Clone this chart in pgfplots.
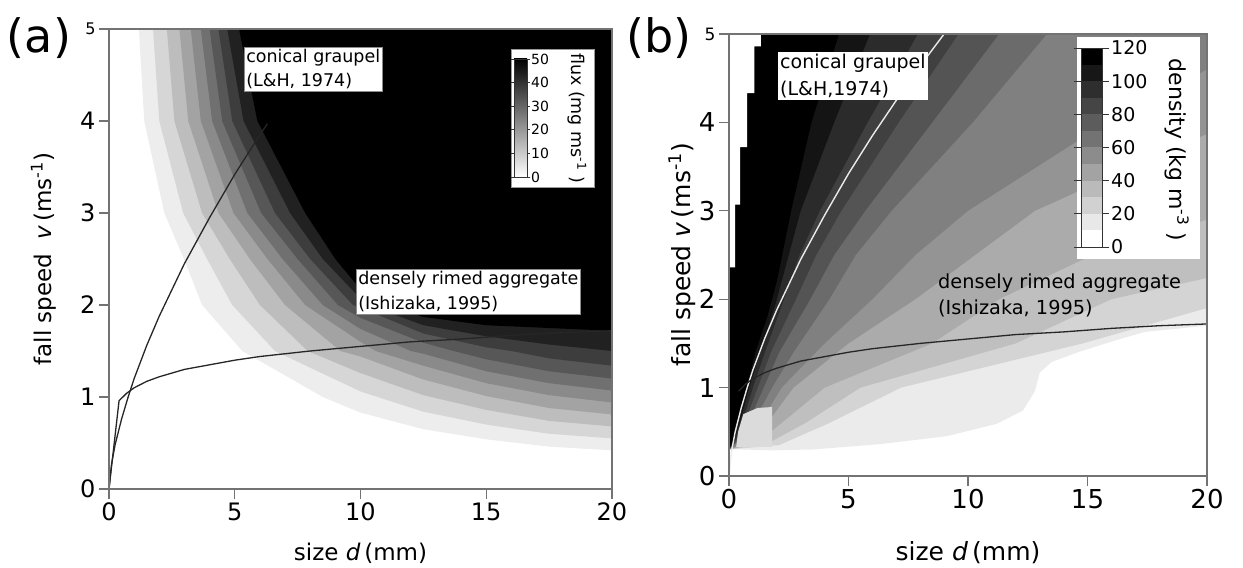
\documentclass[border=0pt]{standalone}
\usepackage{fontspec}
\setmainfont{DejaVu Sans}
\usepackage{pgfplots}
\pgfplotsset{compat=1.18}
\newcommand{\fs}[2]{\fontsize{#1bp}{#2bp}\selectfont}
\pgfplotsset{
  panel/.style={
    scale only axis, anchor=south west,
    xmin=0, xmax=20, ymin=0, ymax=5,
    xtick={0,5,10,15,20}, ytick={0,1,2,3,4,5},
    tick align=outside, tick pos=left, major tick length=10bp,
    axis line style={draw=black!55, line width=1.2bp},
    tick style={draw=black!55, line width=1.2bp},
    axis on top,
    /pgf/number format/assume math mode=true,
  },
  cbar/.style={
    scale only axis, anchor=south west,
    xmin=0, xmax=1, xtick=\empty,
    yticklabel pos=right, tick align=outside, major tick length=5bp,
    axis line style={draw=black!80, line width=0.8bp},
    tick style={draw=black!80, line width=0.8bp},
    axis on top,
    /pgf/number format/assume math mode=true,
  }
}
\begin{document}
\begin{tikzpicture}
\path[use as bounding box] (0,0) rectangle (1243bp,568bp);
% ---------------- panel (a)
\begin{axis}[panel, at={(109bp,79bp)}, width=503bp, height=460bp,
  tick label style={font=\fs{24}{24}},
  yticklabels={0,1,2,3,4,{\fs{16}{16}5}},
  xlabel={size \textit{d}\,(mm)},
  xlabel style={font=\fs{23}{23}, at={(axis description cs:0.5,-0.139)}, anchor=center},
  ylabel={fall speed\ \ \textit{v}\,(ms\textsuperscript{-1})},
  ylabel style={font=\fs{23}{23}, at={(axis description cs:-0.13,0.5)}, anchor=center},
]
\addplot[draw=none, fill=black!7] coordinates {(1.19,5) (1.4,4) (2.2,3) (2.98,2.5) (3.7,2) (5.3,1.5) (8.5,1.0) (10,0.83) (12.5,0.65) (15,0.54) (17.5,0.46) (20,0.42) (20,5)};
\addplot[draw=none, fill=black!16] coordinates {(1.75,5) (2.0,4) (2.95,3) (3.9,2.5) (4.9,2) (6.6,1.5) (10,1.06) (12.5,0.84) (15,0.7) (17.5,0.6) (20,0.55) (20,5)};
\addplot[draw=none, fill=black!26] coordinates {(2.3,5) (2.6,4) (3.7,3) (4.8,2.5) (6.0,2) (7.9,1.5) (10,1.26) (12.5,1.02) (15,0.86) (17.5,0.74) (20,0.68) (20,5)};
\addplot[draw=none, fill=black!36] coordinates {(2.8,5) (3.15,4) (4.35,3) (5.6,2.5) (7.0,2) (9.2,1.5) (10,1.44) (12.5,1.19) (15,1.01) (17.5,0.88) (20,0.81) (20,5)};
\addplot[draw=none, fill=black!46] coordinates {(3.25,5) (3.65,4) (4.95,3) (6.3,2.5) (7.8,2) (10,1.6) (10.6,1.5) (12.5,1.34) (15,1.15) (17.5,1.02) (20,0.94) (20,5)};
\addplot[draw=none, fill=black!56] coordinates {(3.65,5) (4.1,4) (5.5,3) (6.9,2.5) (8.5,2) (10,1.74) (12,1.5) (12.5,1.47) (15,1.28) (17.5,1.15) (20,1.07) (20,5)};
\addplot[draw=none, fill=black!66] coordinates {(4.0,5) (4.5,4) (6.05,3) (7.5,2.5) (9.1,2) (10,1.86) (12.5,1.59) (13.7,1.5) (15,1.41) (17.5,1.28) (20,1.2) (20,5)};
\addplot[draw=none, fill=black!76] coordinates {(4.35,5) (4.9,4) (6.6,3) (8.0,2.5) (9.7,2) (10,1.97) (12.5,1.69) (15,1.54) (16,1.5) (17.5,1.42) (20,1.34) (20,5)};
\addplot[draw=none, fill=black!87] coordinates {(4.7,5) (5.35,4) (7.2,3) (8.5,2.5) (10,2.07) (10.3,2) (12.5,1.78) (15,1.66) (17.5,1.57) (20,1.5) (20,5)};
\addplot[draw=none, fill=black] coordinates {(5.17,5) (5.9,4) (7.8,3) (9.0,2.5) (10,2.17) (11,2) (12.5,1.87) (15,1.78) (17.5,1.75) (20,1.72) (20,5)};
% curves
\addplot[black!85, line width=1.3bp] coordinates {(0,0) (0.1,0.27) (0.25,0.49) (0.5,0.76) (0.75,0.99) (1,1.2) (1.5,1.56) (2,1.88) (3,2.45) (4,2.95) (5,3.42) (6,3.85) (6.3,3.97)};
\addplot[black!85, line width=1.3bp] coordinates {(0,0) (0.4,0.96) (0.7,1.04) (1,1.10) (1.5,1.17) (2,1.22) (3,1.30) (4,1.35) (5,1.40) (6,1.44) (8,1.50) (10,1.55) (12,1.60) (14,1.63) (16,1.67) (18,1.70) (20,1.72)};
\end{axis}
% colorbar (a)
\filldraw[fill=white, draw=black!40, line width=0.6bp] (511bp,381bp) rectangle (594bp,519bp);
\begin{axis}[cbar, at={(514bp,391bp)}, width=13bp, height=118bp,
  ymin=0, ymax=50, ytick={0,10,20,30,40,50}, major tick length=3bp,
  yticklabel style={font=\fs{14}{14}, inner sep=1bp}]
\addplot[draw=none, top color=black, bottom color=white] coordinates {(0,0) (1,0) (1,50) (0,50)};
\end{axis}
\node[rotate=-90, font=\fs{17.5}{17.5}] at (577bp,450bp) {flux (mg ms\textsuperscript{-1} )};
% annotations (a)
\node[draw=black!45, fill=white, line width=0.6bp, inner sep=2bp, anchor=north west, align=left, font=\fs{17.5}{24}] at (244bp,521bp) {conical graupel\\(L\&H, 1974)};
\node[draw=black!45, fill=white, line width=0.6bp, inner sep=2bp, anchor=north west, align=left, font=\fs{17.5}{25}] at (356bp,299bp) {densely rimed aggregate\\(Ishizaka, 1995)};
\node[font=\fs{46}{46}] at (39bp,530bp) {(a)};
% ---------------- panel (b)
\begin{axis}[panel, at={(729bp,92bp)}, width=478bp, height=442bp,
  tick label style={font=\fs{26}{26}},
  yticklabels={0,1,2,3,4,{\fs{17}{17}5}},
  xlabel={size \textit{d}\,(mm)},
  xlabel style={font=\fs{25}{25}, at={(axis description cs:0.5,-0.174)}, anchor=center},
  ylabel={fall speed \textit{v}\,(ms\textsuperscript{-1})},
  ylabel style={font=\fs{25}{25}, at={(axis description cs:-0.097,0.5)}, anchor=center},
]
\addplot[draw=none, fill=black!8] coordinates {(0,0.3) (0.5,0.3) (1.8,0.29) (3.5,0.30) (6.3,0.36) (9.1,0.45) (11.2,0.59) (12.3,0.74) (12.8,0.96) (13,1.17) (13.5,1.29) (14.6,1.40) (16,1.52) (17.4,1.63) (20,1.70) (20,5) (0,5)};
\addplot[draw=none, fill=black!17] coordinates {(0,0.3) (2.1,0.35) (4.2,0.6) (7.2,1.0) (14.8,1.5) (20,1.9) (20,5) (0,5)};
\addplot[draw=none, fill=black!25] coordinates {(0,0.3) (1.7,0.38) (3.2,0.6) (5.5,1.0) (12.0,1.5) (16.0,2.0) (20,2.24) (20,5) (0,5)};
\addplot[draw=none, fill=black!33] coordinates {(0,0.3) (1.2,0.38) (2.2,0.6) (4.0,1.0) (8.5,1.5) (11.3,2.0) (15.2,2.5) (20,2.9) (20,5) (0,5)};
\addplot[draw=none, fill=black!42] coordinates {(0,0.3) (0.8,0.38) (1.6,0.6) (2.7,1.0) (5.0,1.5) (7.8,2.0) (10.3,2.5) (12.8,3.0) (16.5,3.45) (20,3.87) (20,5) (0,5)};
\addplot[draw=none, fill=black!50] coordinates {(0,0.3) (0.6,0.38) (1.3,0.6) (2.2,1.0) (4.0,1.5) (6.0,2.0) (7.8,2.5) (10.0,3.0) (15.8,4.0) (20,4.6) (20,5) (0,5)};
\addplot[draw=none, fill=black!58] coordinates {(0,0.3) (0.45,0.4) (1.0,0.6) (1.8,1.0) (2.7,1.4) (4.2,2.0) (5.3,2.5) (6.8,3.0) (10.2,4.0) (13.3,5) (0,5)};
\addplot[draw=none, fill=black!67] coordinates {(0,0.3) (0.35,0.4) (0.8,0.6) (1.45,1.0) (2.1,1.4) (3.4,2.0) (4.4,2.5) (5.7,3.0) (8.5,4.0) (11.3,5) (0,5)};
\addplot[draw=none, fill=black!75] coordinates {(0,0.3) (0.3,0.4) (0.65,0.6) (1.2,1.0) (1.75,1.4) (2.8,2.0) (3.65,2.5) (4.7,3.0) (7.1,4.0) (9.6,5) (0,5)};
\addplot[draw=none, fill=black!83] coordinates {(0,0.3) (0.25,0.4) (0.55,0.6) (1.0,1.0) (1.5,1.4) (2.3,2.0) (2.95,2.5) (3.8,3.0) (5.8,4.0) (7.9,5) (0,5)};
\addplot[draw=none, fill=black!92] coordinates {(0,0.3) (0.2,0.4) (0.45,0.6) (0.85,1.0) (1.3,1.4) (1.9,1.9) (2.4,2.4) (3.0,3.0) (4.4,4.0) (5.9,5) (0,5)};
\addplot[draw=none, fill=black] coordinates {(0,0.3) (0.15,0.4) (0.35,0.6) (0.7,0.95) (1.1,1.4) (1.6,1.8) (2.0,2.2) (2.3,2.6) (2.6,3.0) (3.45,4.0) (4.6,5) (0,5)};
% lighter strip left of d=1.8
\addplot[draw=none, fill=black!14] coordinates {(0.3,0.33) (1.8,0.33) (1.8,0.78) (1.2,0.77) (0.6,0.7) (0.38,0.5)};
% white notch
\addplot[draw=none, fill=white] coordinates {(0,2.36) (0.26,2.36) (0.26,3.07) (0.47,3.07) (0.47,3.72) (0.76,3.72) (0.76,4.33) (1.06,4.33) (1.06,4.86) (1.33,4.86) (1.33,5) (0,5)};
% curves
\addplot[black!8, line width=1.4bp] coordinates {(0,0) (0.1,0.27) (0.25,0.49) (0.5,0.76) (0.75,0.99) (1,1.2) (1.5,1.56) (2,1.88) (3,2.45) (4,2.95) (5,3.42) (6,3.85) (7,4.25) (8,4.64) (9,5.0)};
\addplot[black!85, line width=1.3bp] coordinates {(0.4,0.96) (0.7,1.04) (1,1.10) (1.5,1.17) (2,1.22) (3,1.30) (4,1.35) (5,1.40) (6,1.44) (8,1.50) (10,1.55) (12,1.60) (14,1.63) (16,1.67) (18,1.70) (20,1.72)};
\end{axis}
% colorbar (b)
\filldraw[fill=white, draw=white] (1077bp,310bp) rectangle (1199bp,531bp);
\begin{axis}[cbar, at={(1081bp,321bp)}, width=21bp, height=199bp,
  ymin=0, ymax=120, ytick={0,20,40,60,80,100,120}, major tick length=7bp,
  yticklabel style={font=\fs{19}{19}, inner sep=2bp}]
\addplot[draw=none, fill=white] coordinates {(0,0) (1,0) (1,10) (0,10)};
\addplot[draw=none, fill=black!9] coordinates {(0,10) (1,10) (1,20) (0,20)};
\addplot[draw=none, fill=black!18] coordinates {(0,20) (1,20) (1,30) (0,30)};
\addplot[draw=none, fill=black!27] coordinates {(0,30) (1,30) (1,40) (0,40)};
\addplot[draw=none, fill=black!36] coordinates {(0,40) (1,40) (1,50) (0,50)};
\addplot[draw=none, fill=black!45] coordinates {(0,50) (1,50) (1,60) (0,60)};
\addplot[draw=none, fill=black!55] coordinates {(0,60) (1,60) (1,70) (0,70)};
\addplot[draw=none, fill=black!64] coordinates {(0,70) (1,70) (1,80) (0,80)};
\addplot[draw=none, fill=black!73] coordinates {(0,80) (1,80) (1,90) (0,90)};
\addplot[draw=none, fill=black!82] coordinates {(0,90) (1,90) (1,100) (0,100)};
\addplot[draw=none, fill=black!91] coordinates {(0,100) (1,100) (1,110) (0,110)};
\addplot[draw=none, fill=black] coordinates {(0,110) (1,110) (1,120) (0,120)};
\end{axis}
\node[rotate=-90, font=\fs{22}{22}] at (1177bp,418bp) {density (kg m\textsuperscript{-3} )};
% annotations (b)
\node[fill=white, inner sep=2bp, anchor=north west, align=left, font=\fs{19}{27}] at (778bp,516bp) {conical graupel\\(L\&H,1974)};
\node[inner sep=2bp, anchor=north west, align=left, font=\fs{19.3}{26}] at (936bp,296bp) {densely rimed aggregate\\(Ishizaka, 1995)};
\node[font=\fs{46}{46}] at (659bp,530bp) {(b)};
\end{tikzpicture}
\end{document}
